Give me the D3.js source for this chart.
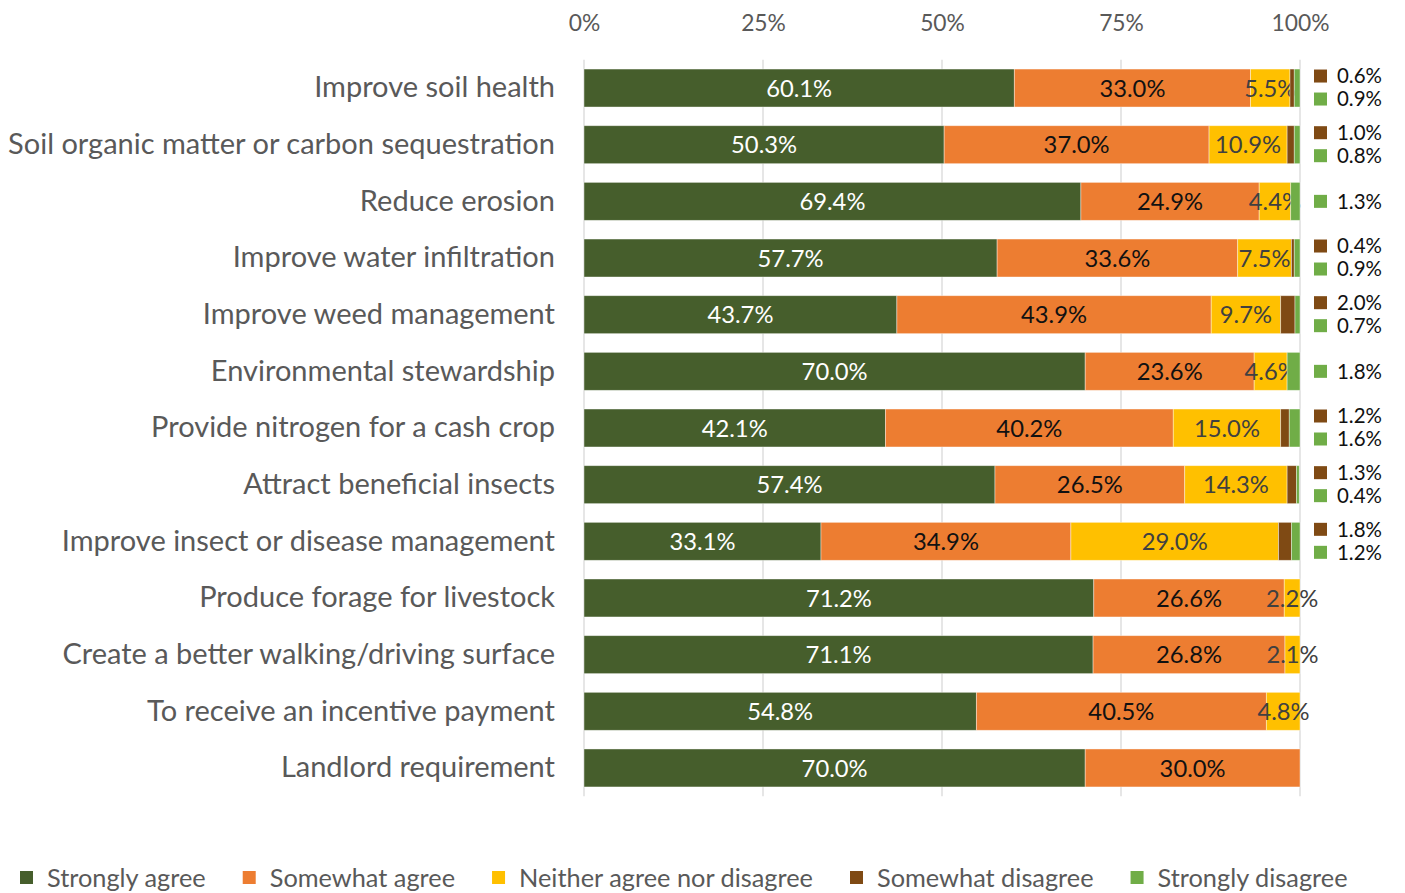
<!DOCTYPE html>
<html><head><meta charset="utf-8">
<script src="https://cdn.jsdelivr.net/npm/d3@7"></script>
<style>body{margin:0;background:#fff}svg{display:block}</style>
</head><body>
<svg id="chart" width="1405" height="893"></svg>
<script>
const categories = [
  "Improve soil health",
  "Soil organic matter or carbon sequestration",
  "Reduce erosion",
  "Improve water infiltration",
  "Improve weed management",
  "Environmental stewardship",
  "Provide nitrogen for a cash crop",
  "Attract beneficial insects",
  "Improve insect or disease management",
  "Produce forage for livestock",
  "Create a better walking/driving surface",
  "To receive an incentive payment",
  "Landlord requirement"
];
const seriesNames = ["Strongly agree","Somewhat agree","Neither agree nor disagree","Somewhat disagree","Strongly disagree"];
const stronglyAgree    = [60.1,50.3,69.4,57.7,43.7,70.0,42.1,57.4,33.1,71.2,71.1,54.8,70.0];
const somewhatAgree    = [33.0,37.0,24.9,33.6,43.9,23.6,40.2,26.5,34.9,26.6,26.8,40.5,30.0];
const neither          = [5.5,10.9,4.4,7.5,9.7,4.6,15.0,14.3,29.0,2.2,2.1,4.8,0];
const somewhatDisagree = [0.6,1.0,0,0.4,2.0,0,1.2,1.3,1.8,0,0,0,0];
const stronglyDisagree = [0.9,0.8,1.3,0.9,0.7,1.8,1.6,0.4,1.2,0,0,0,0];
const tickValues = [0,25,50,75,100];

const colors = ["#465E2C","#ED7D31","#FFC000","#7F4A14","#70AD47"];
const labelColors = ["#ffffff","#111111","#404040"];
const FONT = "Lato, 'Open Sans', sans-serif";

const svg = d3.select("#chart");

// helper: font size so that a sample string has the given width
function widthAt100(sample) {
  const t = svg.append("text").attr("font-family",FONT).attr("font-size",100).text(sample);
  const w = t.node().getComputedTextLength();
  t.remove();
  return w;
}
function fitSize(sample, target) { return 100*target/widthAt100(sample); }
const fsCat = fitSize("Soil organic matter or carbon sequestration", 547);
const fsTick = fitSize("100%", 58);
const fsVal = fitSize("60.1%", 66);
const fsSide = fitSize("0.6%", 45);
const legSum = d3.sum(seriesNames, s=>widthAt100(s));
const fsLeg = 100*1045/legSum;

const x = d3.scaleLinear().domain([0,100]).range([584,1300]);
const y = d3.scaleBand().domain(categories).range([59.7,796.3]).paddingInner(0.33).paddingOuter(0.165);

const seriesArrays = [stronglyAgree,somewhatAgree,neither,somewhatDisagree,stronglyDisagree];
const rows = categories.map((c,i)=>{
  const r = {cat:c}; seriesNames.forEach((s,j)=>r[s]=seriesArrays[j][i]); return r;
});
const stack = d3.stack().keys(seriesNames)(rows);

// gridlines
svg.append("g").selectAll("line").data(tickValues).join("line")
  .attr("x1",d=>x(d)).attr("x2",d=>x(d)).attr("y1",59.7).attr("y2",796.3)
  .attr("stroke","#d9d9d9").attr("stroke-width",1.3);

// top axis
const axis = d3.axisTop(x).tickValues(tickValues).tickFormat(d=>d+"%").tickSize(0).tickPadding(0);
const ag = svg.append("g").attr("transform","translate(0,31)").call(axis);
ag.select(".domain").remove();
ag.selectAll("text").attr("font-family",FONT).attr("font-size",fsTick).attr("fill","#595959");

// bars
stack.forEach((layer,j)=>{
  const g = svg.append("g");
  g.selectAll("rect").data(layer).join("rect")
    .attr("x",d=>x(d[0])).attr("width",d=>Math.max(0,Math.min(x(d[1]),x(100))-x(d[0])))
    .attr("y",d=>y(d.data.cat)).attr("height",y.bandwidth())
    .attr("fill",colors[j]).attr("stroke","#fff").attr("stroke-opacity",0.5).attr("stroke-width",0.8);
  if (j<3) {
    g.selectAll("text").data(layer.filter(d=>d[1]-d[0]>0)).join("text")
      .attr("x",d=>x((d[0]+d[1])/2)).attr("y",d=>y(d.data.cat)+y.bandwidth()/2)
      .attr("dy","0.36em").attr("text-anchor","middle")
      .attr("font-family",FONT).attr("font-size",fsVal).attr("fill",labelColors[j])
      .text(d=>(d[1]-d[0]).toFixed(1)+"%");
  }
});

// right-side small labels (somewhat / strongly disagree)
const side = svg.append("g");
rows.forEach((r,i)=>{
  const cy = y(r.cat)+y.bandwidth()/2;
  const items = [];
  if (somewhatDisagree[i]>0) items.push({v:somewhatDisagree[i],c:colors[3]});
  if (stronglyDisagree[i]>0) items.push({v:stronglyDisagree[i],c:colors[4]});
  const offs = items.length===2 ? [-12,11] : [0];
  items.forEach((it,k)=>{
    const yy = cy+offs[k];
    side.append("rect").attr("x",1314).attr("y",yy-6.5).attr("width",13).attr("height",13).attr("fill",it.c);
    side.append("text").attr("x",1337).attr("y",yy).attr("dy","0.36em")
      .attr("font-family",FONT).attr("font-size",fsSide).attr("fill","#111")
      .text(it.v.toFixed(1)+"%");
  });
});

// category labels
svg.append("g").selectAll("text").data(categories).join("text")
  .attr("x",555).attr("y",d=>y(d)+y.bandwidth()/2-1).attr("dy","0.36em")
  .attr("text-anchor","end").attr("font-family",FONT).attr("font-size",fsCat).attr("fill","#595959")
  .text(d=>d);

// legend
const lg = svg.append("g");
let lx = 20;
seriesNames.forEach((s,j)=>{
  lg.append("rect").attr("x",lx).attr("y",871).attr("width",13).attr("height",13).attr("fill",colors[j]);
  const t = lg.append("text").attr("x",lx+27).attr("y",878).attr("dy","0.36em")
    .attr("font-family",FONT).attr("font-size",fsLeg).attr("fill","#595959").text(s);
  lx += 27 + t.node().getComputedTextLength() + 37;
});
</script>
</body></html>
